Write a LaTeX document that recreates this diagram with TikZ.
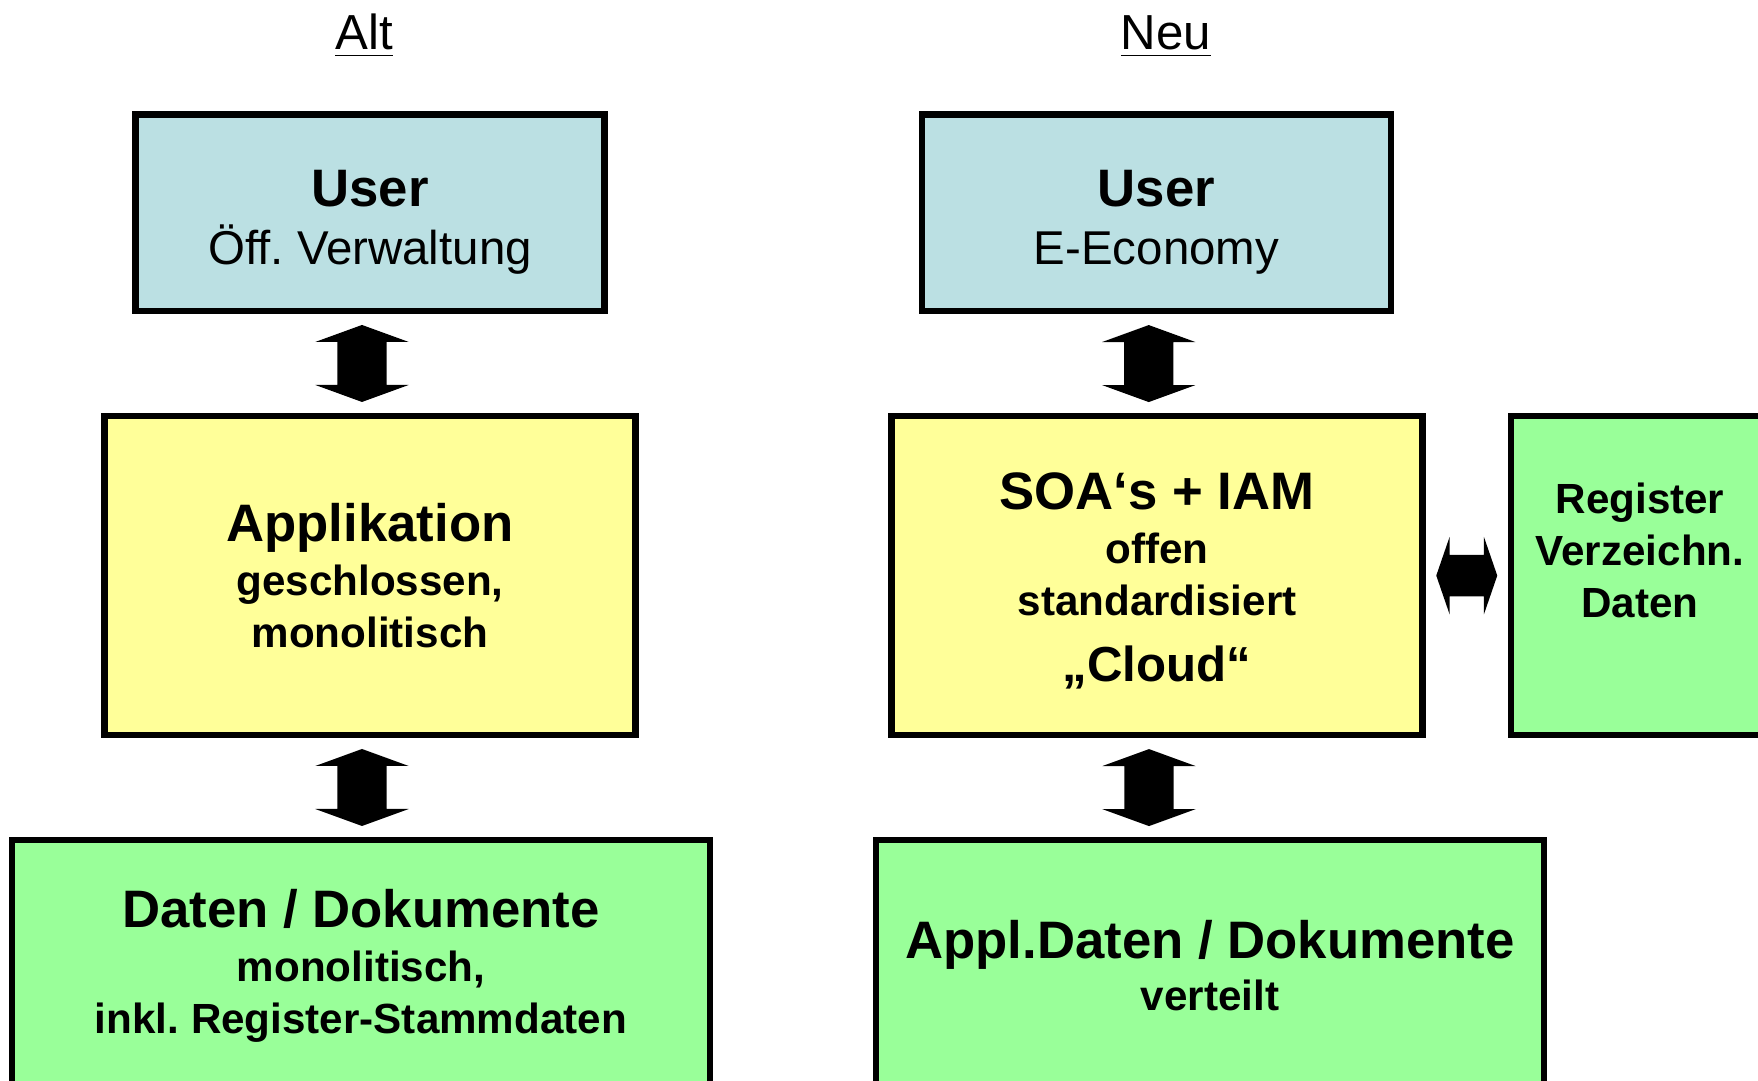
\documentclass[tikz,border=0pt]{standalone}
\usepackage{fontspec}
\setmainfont{Liberation Sans}
\usetikzlibrary{shapes.arrows, positioning, calc}

\definecolor{userblue}{RGB}{187,224,227}
\definecolor{appyellow}{RGB}{255,255,153}
\definecolor{datagreen}{RGB}{153,255,153}

\newcommand{\boxhead}{\fontsize{15}{18}\selectfont\bfseries}
\newcommand{\boxsub}{\fontsize{12}{14.8}\selectfont\bfseries}
\newcommand{\boxplain}{\fontsize{13.5}{16}\selectfont}

\begin{document}
\begin{tikzpicture}[
  box/.style={draw, line width=0.065cm, rectangle, inner sep=0pt, align=center, font=\fontsize{12}{14.8}\selectfont},
  userbox/.style={box, fill=userblue, minimum width=4.69cm, minimum height=1.965cm, font=\fontsize{13.5}{16.5}\selectfont},
  appbox/.style={box, fill=appyellow, minimum width=5.31cm, minimum height=3.19cm},
  databox/.style={box, fill=datagreen, minimum height=2.52cm},
  vlink/.style={double arrow, fill=black, rotate=90, inner xsep=0pt, inner ysep=0.24cm, minimum height=0.77cm, minimum width=0.92cm, double arrow head extend=0.22cm, double arrow tip angle=140},
  hlink/.style={double arrow, fill=black, inner xsep=0pt, inner ysep=0.2cm, minimum height=0.61cm, minimum width=0.76cm, double arrow head extend=0.18cm, double arrow tip angle=142},
  title/.style={font=\fontsize{14}{16}\selectfont, anchor=base}
]
  \useasboundingbox (0,0) rectangle (17.58,-10.81);
  \clip (0,0) rectangle (17.58,-10.81);

  % column titles
  \node[title] (alt) at (3.64,-0.50) {\underline{Alt}};
  \node[title] (neu) at (11.66,-0.50) {\underline{Neu}};

  % old layout
  \node[userbox] (userA) at (3.70,-2.127) {{\boxhead\rule{0pt}{0.55cm}User}\\{\boxplain Öff.\ Verwaltung}};
  \node[appbox] (app) at (3.70,-5.755) {{\boxhead Applikation}\\[0.02cm]{\boxsub geschlossen,}\\{\boxsub monolitisch}};
  \node[databox, minimum width=6.98cm] (dat) at (3.61,-9.66) {{\boxhead Daten / Dokumente}\\[0.02cm]{\boxsub monolitisch,}\\{\boxsub inkl.\ Register-Stammdaten}};

  % new layout
  \node[userbox] (userN) at (11.565,-2.127) {{\boxhead\rule{0pt}{0.55cm}User}\\{\boxplain E-Economy}};
  \node[appbox] (soa) at (11.57,-5.757) {{\boxhead\rule{0pt}{0.48cm}SOA‘s + IAM}\\[0.02cm]{\boxsub offen}\\{\boxsub standardisiert}\\[0.14cm]{\fontsize{14}{16}\selectfont\bfseries „Cloud“}};
  \node[databox, minimum width=6.68cm] (appd) at (12.10,-9.66) {{\boxhead Appl.Daten / Dokumente}\\{\boxsub verteilt}};
  \node[databox, minimum width=2.58cm, minimum height=3.19cm] (reg) at (16.40,-5.755) {};
  \node[align=center, font=\boxsub, below=0.58cm of reg.north] (regtxt) {Register\\Verzeichn.\\Daten};

  % block arrows
  \node[vlink] (a1) at ($(userA.south)!0.5!(app.north)+(-0.08,0)$) {};
  \node[vlink] (a2) at ($(app.south)!0.5!(app.south|-dat.north)+(-0.08,0)$) {};
  \node[vlink] (a3) at ($(userN.south)!0.5!(soa.north)+(-0.08,0)$) {};
  \node[vlink] (a4) at ($(soa.south)!0.5!(soa.south|-appd.north)+(-0.08,0)$) {};
  \node[hlink] (a5) at ($(soa.east)!0.5!(reg.west)$) {};
\end{tikzpicture}
\end{document}
